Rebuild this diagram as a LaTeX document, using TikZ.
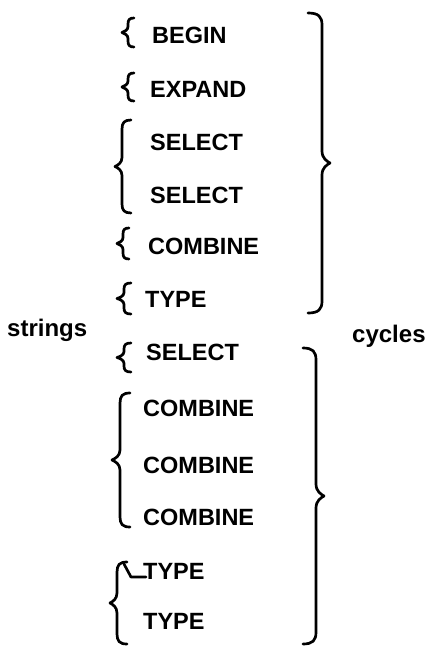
\documentclass[tikz,border=0pt]{standalone}
\usepackage{fontspec}
\setmainfont{Liberation Sans}
\tikzset{
  word/.style={anchor=west, inner sep=0pt, font=\fontsize{23.5}{26}\selectfont\bfseries},
  side/.style={anchor=base west, inner sep=0pt, font=\fontsize{24}{27}\selectfont\bfseries},
  bline/.style={line width=2.7pt, line cap=round, line join=round}
}
% #1 line x, #2 top y, #3 bottom y, #4 tip offset, #5 end-curl offset, #6 curl radius
\newcommand{\curlybr}[6]{%
  \draw[bline] ({#1+#5},#2)
    .. controls ({#1+0.25*#5},#2) and (#1,{#2+0.3*#6}) .. (#1,{#2+#6})
    -- (#1,{(#2+#3)/2-#6})
    .. controls (#1,{(#2+#3)/2-0.4*#6}) and ({#1+0.6*#4},{(#2+#3)/2-0.15*#6}) .. ({#1+#4},{(#2+#3)/2})
    .. controls ({#1+0.6*#4},{(#2+#3)/2+0.15*#6}) and (#1,{(#2+#3)/2+0.4*#6}) .. (#1,{(#2+#3)/2+#6})
    -- (#1,{#3-#6})
    .. controls (#1,{#3-0.3*#6}) and ({#1+0.25*#5},#3) .. ({#1+#5},#3);}
\begin{document}
\begin{tikzpicture}[x=1pt,y=-1pt]
\useasboundingbox (0,0) rectangle (428,646);
% words
\node[word] (w1) at (152,35) {BEGIN};
\node[word] (w2) at (150,89) {EXPAND};
\node[word] (w3) at (150,142) {SELECT};
\node[word] (w4) at (150,195) {SELECT};
\node[word] (w5) at (148,246) {COMBINE};
\node[word] (w6) at (145,299) {TYPE};
\node[word] (w7) at (146,352) {SELECT};
\node[word] (w8) at (143,408) {COMBINE};
\node[word] (w9) at (143,465) {COMBINE};
\node[word] (w10) at (143,517) {COMBINE};
\node[word] (w11) at (143,571) {TYPE};
\node[word] (w12) at (143,621) {TYPE};
\node[side] (strings) at (7,336) {strings};
\node[side] (cycles) at (352,342) {cycles};
% left braces
\curlybr{128}{18}{47}{-6}{6}{6}
\curlybr{128}{73}{101}{-6}{6}{6}
\curlybr{122}{120}{213}{-7}{9}{9}
\curlybr{123}{228}{259}{-6}{6}{6}
\curlybr{124}{283}{314}{-7}{7}{6}
\curlybr{124}{343}{372}{-7}{7}{6}
\curlybr{120}{393}{527}{-8}{10}{10}
\curlybr{117}{562}{644}{-7}{10}{10}
\draw[bline] (124,564) -- (131,577) -- (146,577);
% right braces
\curlybr{322}{13}{313}{8}{-14}{12}
\curlybr{316}{348}{644}{8}{-13}{12}
\end{tikzpicture}
\end{document}
